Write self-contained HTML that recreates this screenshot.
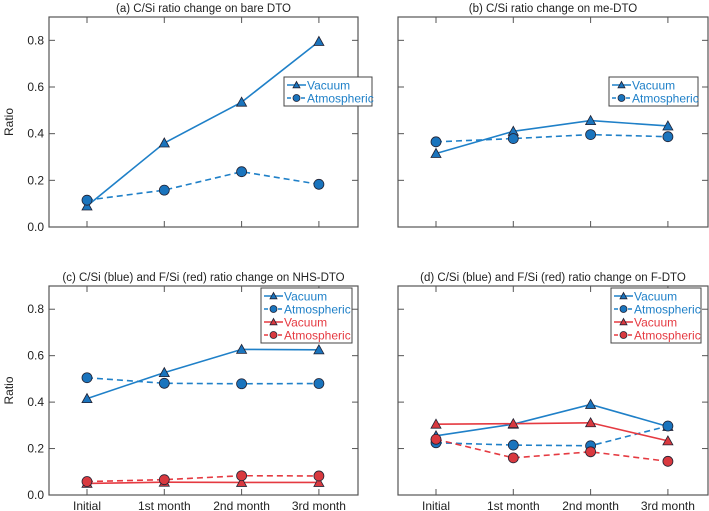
<!DOCTYPE html>
<html><head><meta charset="utf-8"><style>
body{margin:0;background:#fff}
svg{display:block;font-family:"Liberation Sans",sans-serif}
</style></head><body>
<svg id="chart" width="709" height="511" viewBox="0 0 709 511" xmlns="http://www.w3.org/2000/svg"></svg>
<script>
const categories=["Initial","1st month","2nd month","3rd month"];
const yTicks=[0,0.2,0.4,0.6,0.8];
const aVac=[0.09,0.36,0.535,0.795];
const aAtm=[0.115,0.158,0.237,0.183];
const bVac=[0.315,0.41,0.456,0.433];
const bAtm=[0.365,0.379,0.396,0.387];
const cVacC=[0.415,0.527,0.627,0.625];
const cAtmC=[0.505,0.481,0.479,0.48];
const cVacF=[0.05,0.055,0.054,0.054];
const cAtmF=[0.058,0.066,0.083,0.082];
const dVacC=[0.255,0.305,0.39,0.295];
const dAtmC=[0.225,0.215,0.212,0.297];
const dVacF=[0.305,0.307,0.311,0.233];
const dAtmF=[0.24,0.16,0.186,0.145];
const titles=["(a) C/Si ratio change on bare DTO","(b) C/Si ratio change on me-DTO","(c) C/Si (blue) and F/Si (red) ratio change on NHS-DTO","(d) C/Si (blue) and F/Si (red) ratio change on F-DTO"];

const NS="http://www.w3.org/2000/svg";
const svg=document.getElementById('chart');
const BLUE="#1f80c8",BLUEF="#1a74bd",RED="#e53a41",REDF="#d9393f",AX="#555";
function el(t,a,p){const e=document.createElementNS(NS,t);for(const k in a)e.setAttribute(k,a[k]);(p||svg).appendChild(e);return e;}

const panels=[
 {L:49,R:358,T:17,B:227,title:titles[0],ylab:true,xlab:false,series:[[aVac,'tri',BLUE,BLUEF,false],[aAtm,'circ',BLUE,BLUEF,true]],leg:{x:284,y:77,w:88}},
 {L:398,R:708,T:17,B:227,title:titles[1],ylab:false,xlab:false,series:[[bVac,'tri',BLUE,BLUEF,false],[bAtm,'circ',BLUE,BLUEF,true]],leg:{x:609,y:77,w:89}},
 {L:49,R:358,T:286,B:495,title:titles[2],ylab:true,xlab:true,series:[[cVacC,'tri',BLUE,BLUEF,false],[cAtmC,'circ',BLUE,BLUEF,true],[cVacF,'tri',RED,REDF,false],[cAtmF,'circ',RED,REDF,true]],leg:{x:261,y:288,w:91}},
 {L:398,R:708,T:286,B:495,title:titles[3],ylab:false,xlab:true,series:[[dVacC,'tri',BLUE,BLUEF,false],[dAtmC,'circ',BLUE,BLUEF,true],[dVacF,'tri',RED,REDF,false],[dAtmF,'circ',RED,REDF,true]],leg:{x:611,y:288,w:90}}
];
function marker(g,type,x,y,fill,s){
 s=s||5;
 if(type==='tri'){const m=el('polygon',{points:`${x},${y-s} ${x-s},${y+s*0.8} ${x+s},${y+s*0.8}`,fill:fill,stroke:'#223','stroke-width':0.8},g);}
 else{const m=el('circle',{cx:x,cy:y,r:s,fill:fill,stroke:'#223','stroke-width':0.8},g);}
}
panels.forEach((p,pi)=>{
 const g=el('g',{});
 
 
 const xs=i=>p.L+38+i*77.3;
 const ys=v=>p.B-v*(p.B-p.T)/0.9;
 const t=el('text',{x:(p.L+p.R)/2,y:p.T-5,'text-anchor':'middle','font-size':11.5,fill:'#222'},g);t.textContent=p.title;
 
 const fr=el('rect',{x:p.L,y:p.T,width:p.R-p.L,height:p.B-p.T,fill:'none',stroke:AX,'stroke-width':1.2},g);
 
 yTicks.forEach(v=>{
  el('line',{x1:p.L,x2:p.L+6,y1:ys(v),y2:ys(v),stroke:AX},g);
  el('line',{x1:p.R,x2:p.R-6,y1:ys(v),y2:ys(v),stroke:AX},g);
  if(p.ylab){const tl=el('text',{x:p.L-5,y:ys(v)+4,'text-anchor':'end','font-size':12,fill:'#222'},g);tl.textContent=v.toFixed(1);
   }
 });
 categories.forEach((c,i)=>{
  el('line',{x1:xs(i),x2:xs(i),y1:p.T,y2:p.T+6,stroke:AX},g);
  el('line',{x1:xs(i),x2:xs(i),y1:p.B,y2:p.B-6,stroke:AX},g);
  if(p.xlab){const tl=el('text',{x:xs(i),y:p.B+15,'text-anchor':'middle','font-size':12,fill:'#222'},g);tl.textContent=c;
   }
 });
 if(p.ylab){const yl=el('text',{x:0,y:0,transform:`translate(${p.L-36},${(p.T+p.B)/2}) rotate(-90)`,'text-anchor':'middle','font-size':12,fill:'#222'},g);yl.textContent='Ratio';
  }
 p.series.forEach(s=>{
  const [vals,type,col,fill,dash]=s;
  const pl=el('polyline',{points:vals.map((v,i)=>xs(i)+','+ys(v)).join(' '),fill:'none',stroke:col,'stroke-width':1.6,'stroke-dasharray':dash?'6,4':'none'},g);
  
  vals.forEach((v,i)=>marker(g,type,xs(i),ys(v),fill));
 });
 const lg=el('g',{},g);
 
 const n=p.series.length;
 el('rect',{x:p.leg.x,y:p.leg.y,width:p.leg.w,height:n*13+3,fill:'#fff',stroke:'#444','stroke-width':1},lg);
 const names=['Vacuum','Atmospheric','Vacuum','Atmospheric'];
 p.series.forEach((s,k)=>{
  const yy=p.leg.y+8+k*13;
  el('line',{x1:p.leg.x+3,x2:p.leg.x+22,y1:yy,y2:yy,stroke:s[2],'stroke-width':1.5,'stroke-dasharray':s[4]?'4,3':'none'},lg);
  marker(lg,s[1],p.leg.x+12.5,yy,s[3],3.5);
  const tx=el('text',{x:p.leg.x+23,y:yy+4.5,'font-size':12,fill:s[2]},lg);tx.textContent=names[k];
  
 });
});
</script>
</body></html>
